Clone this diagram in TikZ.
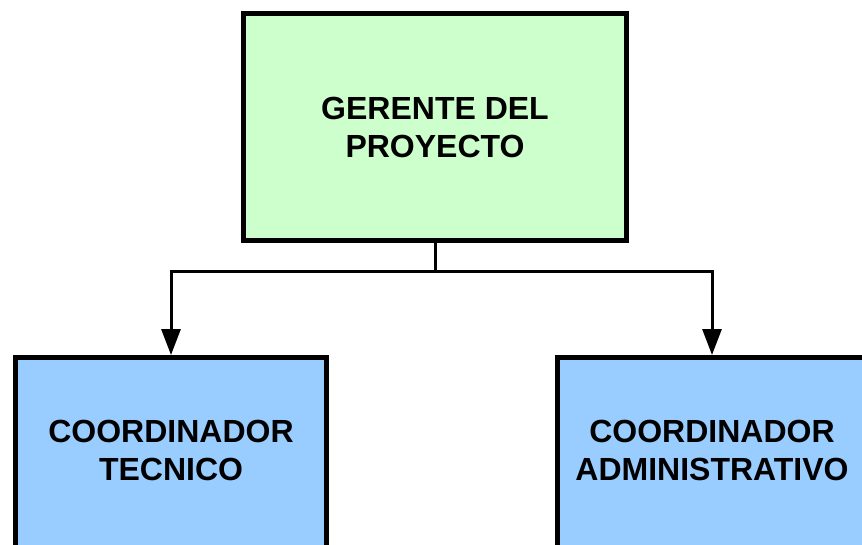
\documentclass[tikz,border=0pt]{standalone}
\usepackage{fontspec}
\setmainfont{Liberation Sans}
\usetikzlibrary{arrows.meta}
\definecolor{verdeclaro}{HTML}{CCFFCC}
\definecolor{azulclaro}{HTML}{99CCFF}
\begin{document}
\begin{tikzpicture}[
        x=1pt, y=-1pt,
        caja/.style={draw, line width=5pt, align=center, inner sep=0pt,
            font=\fontsize{32}{38}\selectfont\bfseries},
        flecha/.style={line width=3pt, -{Triangle[width=19pt,length=26pt]}}
    ]

    % ---------- marco ----------
    \useasboundingbox (0,0) rectangle (862,544);

    % ---------- cajas ----------
    \node[caja, fill=verdeclaro, minimum width=383pt, minimum height=227pt]
        (gerente) at (435,127) {GERENTE DEL\\PROYECTO};
    \node[caja, fill=azulclaro, minimum width=311pt, minimum height=215pt, text depth=29pt]
        (tecnico) at (171,465) {COORDINADOR\\TECNICO};
    \node[caja, fill=azulclaro, minimum width=309pt, minimum height=215pt, text depth=29pt]
        (admin) at (712,465) {COORDINADOR\\ADMINISTRATIVO};

    % ---------- conectores ----------
    \coordinate (rama) at (435,271);
    \draw[line width=3pt] (gerente.south) -- (rama);
    \draw[flecha] (rama) -| (tecnico.north);
    \draw[flecha] (rama) -| (admin.north);

\end{tikzpicture}
\end{document}
